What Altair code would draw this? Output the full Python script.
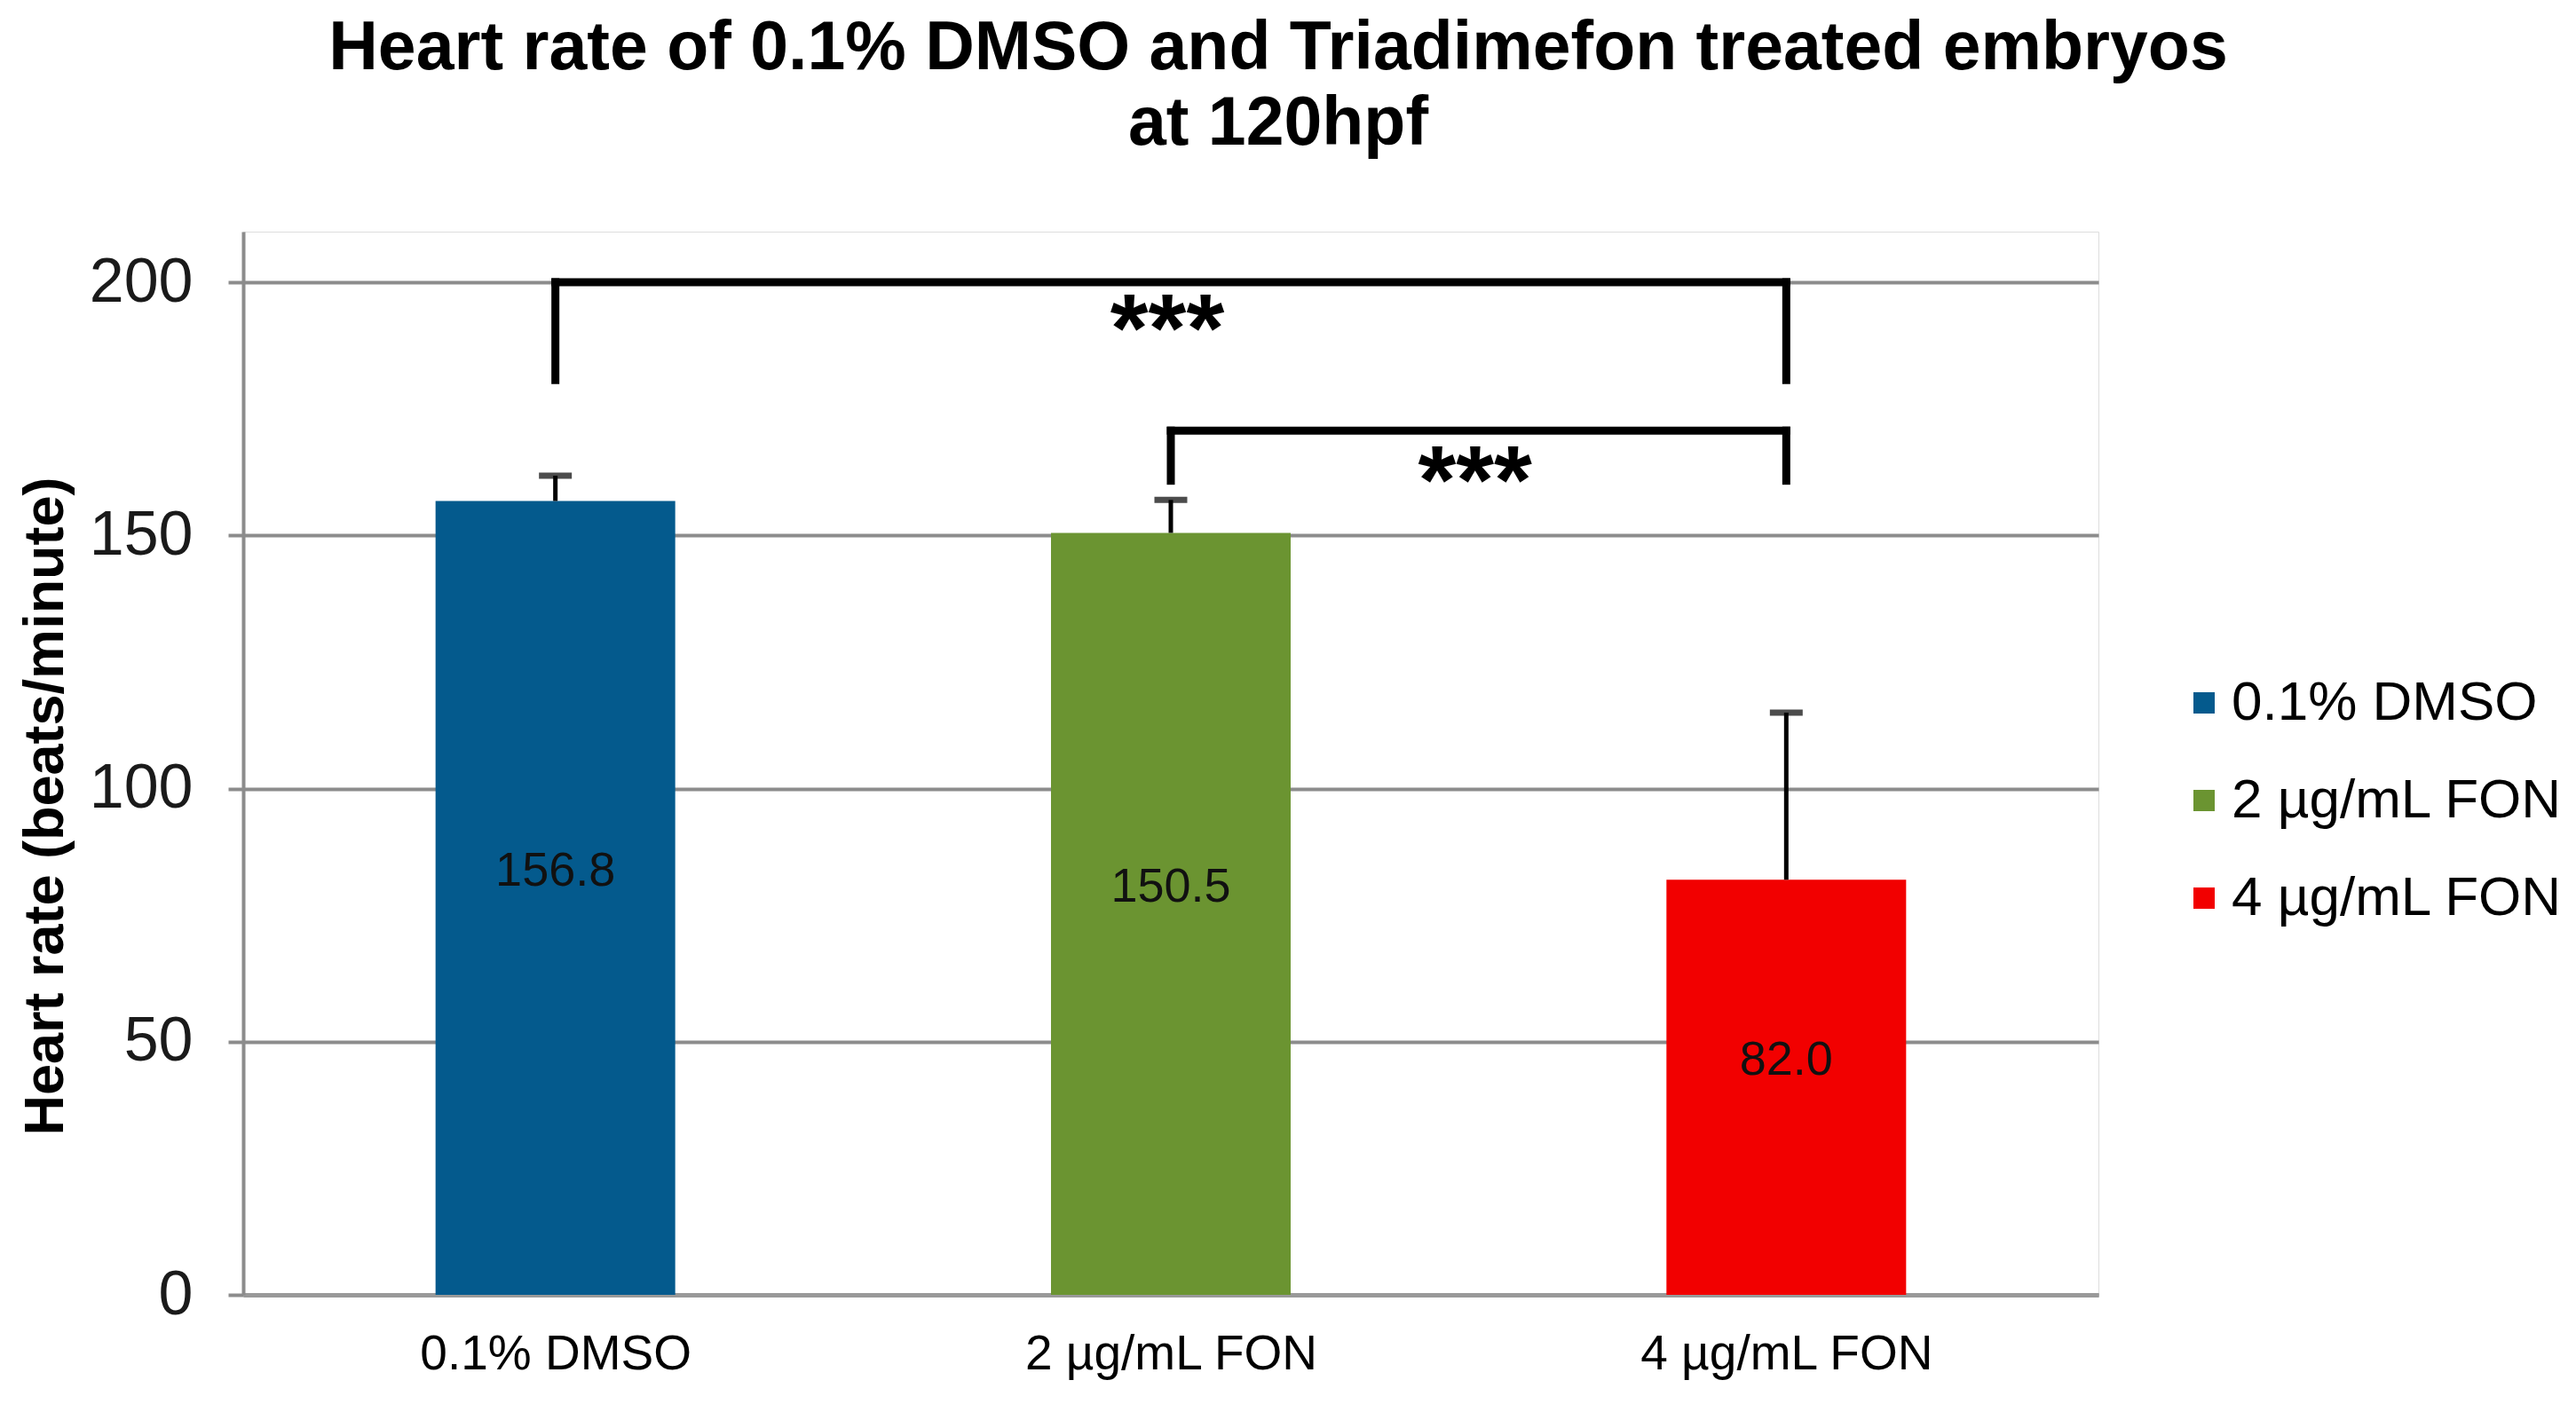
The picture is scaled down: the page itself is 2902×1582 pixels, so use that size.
import altair as alt
import pandas as pd

# ---- data ----
categories = ["0.1% DMSO", "2 µg/mL FON", "4 µg/mL FON"]
means = [156.8, 150.5, 82.0]
errors = [5.0, 6.5, 33.0]
value_labels = ["156.8", "150.5", "82.0"]
bar_colors = ["#045A8D", "#6B9431", "#F20000"]
y_ticks = [0, 50, 100, 150, 200]

# significance brackets (category index from/to, heights in bpm)
bracket_from = [0, 1]
bracket_to = [2, 2]
bracket_top = [200.0, 170.7]
bracket_leg_end = [180.7, 160.8]
star_y = [194.2, 164.2]
star_text = ["***", "***"]

title_lines = ["Heart rate of  0.1%  DMSO and Triadimefon treated embryos", "at 120hpf"]
y_title = "Heart rate (beats/minute)"

FONT = "Liberation Sans"

# ---- tables ----
bars = pd.DataFrame({
    "cat": categories,
    "pos": [i + 0.5 for i in range(len(categories))],
    "mean": means,
    "err": errors,
    "label": value_labels,
})

hlines = pd.DataFrame({
    "x": [f + 0.5 for f in bracket_from],
    "x2": [t + 0.5 for t in bracket_to],
    "y": bracket_top,
})
legs_rows = []
for f, t, top, end in zip(bracket_from, bracket_to, bracket_top, bracket_leg_end):
    legs_rows.append({"x": f + 0.5, "y": top, "y2": end})
    legs_rows.append({"x": t + 0.5, "y": top, "y2": end})
legs = pd.DataFrame(legs_rows)
stars = pd.DataFrame({
    "x": [(f + t) / 2 + 0.5 for f, t in zip(bracket_from, bracket_to)],
    "y": star_y,
    "text": star_text,
})

label_expr = " : ".join(
    [f"datum.value < {i + 1} ? '{c}'" for i, c in enumerate(categories[:-1])]
) + f" : '{categories[-1]}'"

x_scale = alt.Scale(domain=[0, len(categories)], nice=False, zero=False)
x_axis = alt.Axis(
    values=[i + 0.5 for i in range(len(categories))],
    labelExpr=label_expr,
    labelLimit=0,
    title=None,
    grid=False,
    ticks=False,
    tickSize=0,
    labelFont=FONT,
    labelFontSize=55,
    labelColor="#000000",
    labelPadding=40,
    domainColor="#999999",
    domainWidth=5,
)
y_scale = alt.Scale(domain=[0, 210], nice=False)
y_axis = alt.Axis(
    values=y_ticks,
    title=y_title,
    titleFont=FONT,
    titleFontSize=63,
    titleFontWeight="bold",
    titleColor="#000000",
    titleX=-191,
    titleY=647,
    titleAngle=270,
    titleBaseline="bottom",
    titleAlign="center",
    titleLimit=0,
    labelFont=FONT,
    labelFontSize=70,
    labelColor="#1a1a1a",
    labelPadding=40,
    tickSize=17,
    tickColor="#8c8c8c",
    tickWidth=4,
    grid=True,
    gridColor="#8c8c8c",
    gridWidth=4,
    domainColor="#8c8c8c",
    domainWidth=4,
)


def X(field):
    return alt.X(field, scale=x_scale, axis=x_axis, title=None)


def Y(field):
    return alt.Y(field, scale=y_scale, axis=y_axis, title=y_title)


bar_layer = alt.Chart(bars).mark_bar(size=270).encode(
    x=X("pos:Q"),
    y=Y("mean:Q"),
    color=alt.Color(
        "cat:N",
        scale=alt.Scale(domain=categories, range=bar_colors),
        legend=alt.Legend(
            title=None,
            orient="none",
            legendX=2178,
            legendY=500,
            padding=0,
            symbolType="square",
            symbolSize=576,
            symbolStrokeWidth=0,
            labelFont=FONT,
            labelFontSize=62,
            labelColor="#000000",
            labelOffset=0,
            labelLimit=0,
            rowPadding=48,
        ),
    ),
)

err_rule = alt.Chart(bars).transform_calculate(top="datum.mean + datum.err").mark_rule(
    color="#000000", strokeWidth=5
).encode(x=X("pos:Q"), y=Y("mean:Q"), y2="top:Q")

err_cap = alt.Chart(bars).transform_calculate(top="datum.mean + datum.err").mark_tick(
    color="#000000", orient="horizontal", size=37, thickness=7
).encode(x=X("pos:Q"), y=Y("top:Q"))

val_text = alt.Chart(bars).transform_calculate(mid="datum.mean / 2").mark_text(
    font=FONT, fontSize=54, color="#111111", baseline="middle", dy=-30
).encode(x=X("pos:Q"), y=Y("mid:Q"), text="label:N")

br_h = alt.Chart(hlines).mark_rule(color="#000000", strokeWidth=9, strokeCap="square").encode(
    x=X("x:Q"), x2="x2:Q", y=Y("y:Q")
)
br_v = alt.Chart(legs).mark_rule(color="#000000", strokeWidth=9, strokeCap="square").encode(
    x=X("x:Q"), y=Y("y:Q"), y2="y2:Q"
)
star_layer = alt.Chart(stars).mark_text(
    font=FONT, fontSize=110, fontWeight="bold", color="#000000", baseline="alphabetic", dy=56, dx=-4
).encode(x=X("x:Q"), y=Y("y:Q"), text="text:N")

chart = alt.layer(
    bar_layer, err_rule, err_cap, val_text, br_h, br_v, star_layer
).properties(
    width=2090,
    height=1198,
    autosize=alt.AutoSizeParams(type="none"),
    padding={"left": 266, "top": 253, "right": 530, "bottom": 110},
    title=alt.TitleParams(
        text=title_lines,
        font=FONT,
        fontSize=77,
        fontWeight="bold",
        color="#000000",
        lineHeight=85,
        anchor="middle",
        dx=121,
        offset=82,
    ),
).configure_view(stroke=None, strokeWidth=0, fill="#ffffff").configure(background="#ffffff")

chart.save("out.html", embed_options={"renderer": "svg", "actions": False})
